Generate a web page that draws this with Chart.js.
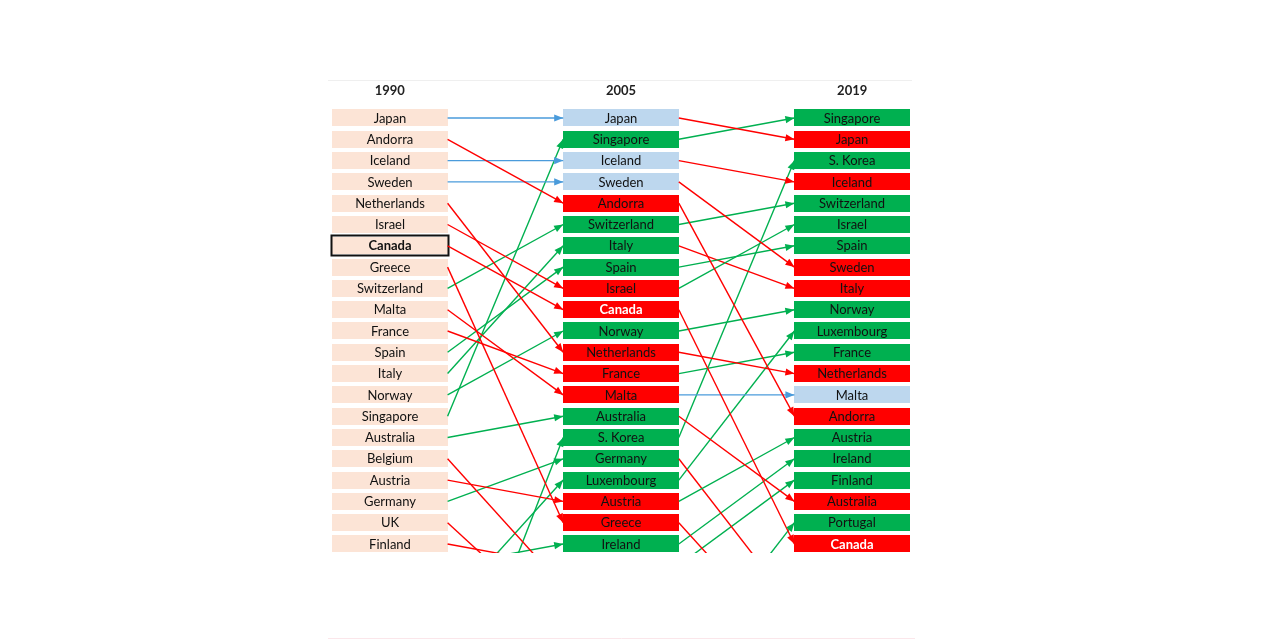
<!DOCTYPE html>
<html><head><meta charset="utf-8">
<script src="https://cdn.jsdelivr.net/npm/chart.js@4/dist/chart.umd.min.js"></script>
<style>html,body{margin:0;padding:0;background:#fff;}</style>
</head><body>
<canvas id="c" width="1280" height="640"></canvas>
<script>
// ---- data ----
const years = ['1990', '2005', '2019'];
const countries = ['Japan','Andorra','Iceland','Sweden','Netherlands','Israel','Canada','Greece','Switzerland','Malta','France','Spain','Italy','Norway','Singapore','Australia','Belgium','Austria','Germany','UK','Finland','Ireland','Luxembourg','S. Korea','Portugal'];
const rank1990 = [1,2,3,4,5,6,7,8,9,10,11,12,13,14,15,16,17,18,19,20,21,22,24,30,null];
const rank2005 = [1,5,3,4,12,9,10,20,6,14,13,8,7,11,2,15,23,19,17,25,22,21,18,16,27];
const rank2019 = [2,15,4,8,13,6,21,26,5,14,12,7,9,10,1,19,null,16,24,null,18,17,11,3,20];
const highlight = 'Canada';

const ranks = [rank1990, rank2005, rank2019];
const COL = {up:'#00B050', down:'#FF0000', same:'#BDD7EE', base:'#FCE4D6'};
const LINE = {up:'#00B050', down:'#FF0000', same:'#4A9BDB'};
function change(a, b){ if (a == null) return 'up'; return b < a ? 'up' : (b > a ? 'down' : 'same'); }

const datasets = [];
for (let j = 0; j < 2; j++) {
  countries.forEach((c, i) => {
    const a = ranks[j][i], b = ranks[j+1][i];
    if (a == null || b == null) return;
    const ch = change(a, b);
    datasets.push({
      label: c + ' ' + years[j] + '-' + years[j+1],
      data: [{x: 2*j + 1, y: a}, {x: 2*j + 2, y: b}],
      borderColor: LINE[ch], backgroundColor: LINE[ch],
      borderWidth: 1.4, pointRadius: 0, showLine: true, fill: false, tension: 0
    });
  });
}

const font = "Lato, 'Open Sans', sans-serif";

const boxPlugin = {
  id: 'boxes',
  beforeDatasetsDraw(chart) {
    const {ctx, chartArea: ca, scales: {x, y}} = chart;
    ctx.save();
    // frame lines
    ctx.strokeStyle = '#EFEFEF'; ctx.lineWidth = 1;
    ctx.beginPath(); ctx.moveTo(ca.left, ca.top + 0.5); ctx.lineTo(ca.right - 2, ca.top + 0.5); ctx.stroke();
    ctx.strokeStyle = '#FBE6EA';
    ctx.beginPath(); ctx.moveTo(ca.left, 638.5); ctx.lineTo(ca.right + 1, 638.5); ctx.stroke();
    // headers
    ctx.fillStyle = '#222'; ctx.font = 'bold 13px ' + font;
    ctx.textAlign = 'center'; ctx.textBaseline = 'middle';
    years.forEach((yr, j) => ctx.fillText(yr, x.getPixelForValue(2*j + 0.5), y.getPixelForValue(-0.27)));
    ctx.beginPath(); ctx.rect(ca.left, ca.top, ca.right - ca.left, ca.bottom - ca.top); ctx.clip();
    const rowH = Math.abs(y.getPixelForValue(2) - y.getPixelForValue(1));
    const h = rowH * 0.8;
    for (let j = 0; j < 3; j++) {
      const x0 = Math.round(x.getPixelForValue(2*j)), x1 = Math.round(x.getPixelForValue(2*j + 1));
      countries.forEach((c, i) => {
        const r = ranks[j][i];
        if (r == null) return;
        const yc = y.getPixelForValue(r);
        const fill = j === 0 ? COL.base : COL[change(ranks[j-1][i], r)];
        const hl = c === highlight;
        ctx.fillStyle = fill;
        ctx.fillRect(x0, Math.round(yc - h/2), x1 - x0, Math.round(h));
        if (hl && j === 0) {
          ctx.strokeStyle = '#111'; ctx.lineWidth = 2;
          ctx.strokeRect(x0 - 0.5, Math.round(yc - h/2) - 1.5, x1 - x0 + 1, Math.round(h) + 3);
        }
        ctx.fillStyle = (hl && j > 0) ? '#FFFFFF' : '#111';
        ctx.font = (hl ? 'bold ' : '') + '13px ' + font;
        ctx.fillText(c, (x0 + x1) / 2, yc + 0.5);
      });
    }
    ctx.restore();
  }
};

const arrowPlugin = {
  id: 'arrows',
  afterDatasetsDraw(chart) {
    const {ctx, chartArea: ca} = chart;
    ctx.save();
    ctx.beginPath(); ctx.rect(ca.left, ca.top, ca.right - ca.left, ca.bottom - ca.top); ctx.clip();
    chart.data.datasets.forEach((ds, k) => {
      const pts = chart.getDatasetMeta(k).data;
      const p0 = pts[0], p1 = pts[1];
      const ang = Math.atan2(p1.y - p0.y, p1.x - p0.x);
      const L = 9, W = 3.6;
      ctx.fillStyle = ds.borderColor;
      ctx.beginPath();
      ctx.moveTo(p1.x, p1.y);
      ctx.lineTo(p1.x - L*Math.cos(ang) + W*Math.sin(ang), p1.y - L*Math.sin(ang) - W*Math.cos(ang));
      ctx.lineTo(p1.x - L*Math.cos(ang) - W*Math.sin(ang), p1.y - L*Math.sin(ang) + W*Math.cos(ang));
      ctx.closePath(); ctx.fill();
    });
    ctx.restore();
  }
};

new Chart(document.getElementById('c'), {
  type: 'scatter',
  data: {datasets},
  options: {
    responsive: false, animation: false, devicePixelRatio: 1,
    layout: {padding: {left: 328, right: 366, top: 80, bottom: 87}},
    plugins: {legend: {display: false}, tooltip: {enabled: false}},
    scales: {
      x: {type: 'linear', display: false, min: -0.0346, max: 5.0346},
      y: {type: 'linear', display: false, reverse: true, min: -0.784, max: 21.423}
    }
  },
  plugins: [boxPlugin, arrowPlugin]
});
</script>
</body></html>
